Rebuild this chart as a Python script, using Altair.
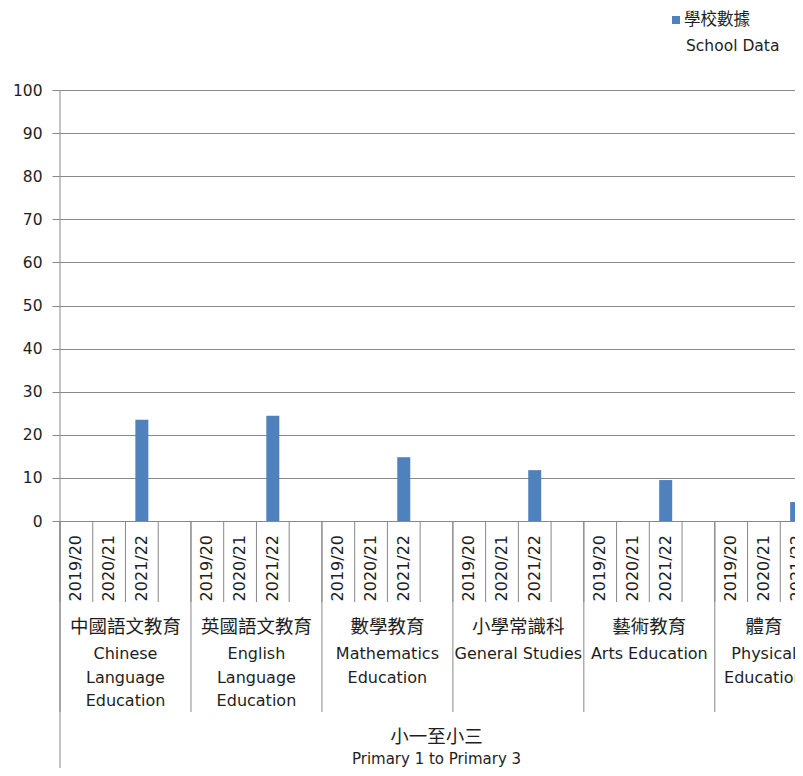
import altair as alt
import pandas as pd

# ---------------- data ----------------
subjects_zh = ["中國語文教育", "英國語文教育", "數學教育", "小學常識科", "藝術教育", "體育"]
subjects_en = ["Chinese\nLanguage\nEducation", "English\nLanguage\nEducation",
               "Mathematics\nEducation", "General Studies", "Arts Education",
               "Physical\nEducation"]
years = ["2019/20", "2020/21", "2021/22"]
values_2019_20 = [None, None, None, None, None, None]
values_2020_21 = [None, None, None, None, None, None]
values_2021_22 = [23.5, 24.4, 14.8, 11.8, 9.5, 4.4]
y_ticks = [0, 10, 20, 30, 40, 50, 60, 70, 80, 90, 100]
series_zh = "學校數據"
series_en = "School Data"
stage_zh = "小一至小三"
stage_en = "Primary 1 to Primary 3"

# ---------------- style ----------------
BLUE = "#4F81BD"
GRAY = "#888888"
TXT = "#1e1e1e"
LATIN = "DejaVu Sans"
CJK = "Noto Sans CJK TC"
W, H = 735, 431
SLOT_PX = 32.74

# ---------------- tables ----------------
series_vals = [values_2019_20, values_2020_21, values_2021_22]
slots_per_group = len(years) + 1
n_slots = len(subjects_zh) * slots_per_group - 1
x_max = W / SLOT_PX  # the picture is cropped at the right edge

rows = []
for i, s in enumerate(subjects_zh):
    for j, yr in enumerate(years):
        rows.append({"subject": s, "year": yr, "si": i, "yi": j,
                     "value": series_vals[j][i]})
df = pd.DataFrame(rows)
df["slot"] = df["si"] * slots_per_group + df["yi"] + 0.5

groups = []
for i, (zh, en) in enumerate(zip(subjects_zh, subjects_en)):
    start = i * slots_per_group
    end = min(start + slots_per_group, n_slots)
    groups.append({"zh": zh, "en": en, "center": (start + end) / 2.0, "start": start})
gdf = pd.DataFrame(groups)

bounds = pd.DataFrame({"b": list(range(0, n_slots + 1))})
gbounds = pd.DataFrame({"b": [g["start"] for g in groups] + [n_slots]})
stage = pd.DataFrame({"zh": [stage_zh], "en": [stage_en], "center": [n_slots / 2.0]})
legend = pd.DataFrame({"zh": [series_zh], "en": [series_en]})

xs = alt.Scale(domain=[0, x_max], nice=False, zero=False, padding=0)
ys = alt.Scale(domain=[0, 100], nice=False)

bars = alt.Chart(df).transform_filter("isValid(datum.value)").mark_bar(
    size=13, color=BLUE, clip=True
).encode(
    x=alt.X("slot:Q", scale=xs, axis=None),
    y=alt.Y("value:Q", scale=ys, axis=alt.Axis(
        values=y_ticks, title=None, grid=True, gridColor=GRAY, gridWidth=1,
        domain=False, tickColor=GRAY, tickSize=8, labelPadding=10,
        labelFont=LATIN, labelFontSize=15.5, labelColor=TXT)),
)

year_labels = alt.Chart(df).mark_text(
    angle=270, align="right", baseline="middle", font=LATIN, fontSize=16, color=TXT
).encode(x=alt.X("slot:Q", scale=xs), y=alt.value(445), text="year:N")

slot_lines = alt.Chart(bounds).mark_rule(color=GRAY, strokeWidth=1).encode(
    x=alt.X("b:Q", scale=xs), y=alt.value(H), y2=alt.value(H + 81))

group_lines = alt.Chart(gbounds).mark_rule(color=GRAY, strokeWidth=1).encode(
    x=alt.X("b:Q", scale=xs), y=alt.value(H), y2=alt.value(H + 191))

axis_line = alt.Chart(pd.DataFrame({"b": [0]})).mark_rule(color=GRAY, strokeWidth=1).encode(
    x=alt.X("b:Q", scale=xs), y=alt.value(0), y2=alt.value(H + 260))

subj_zh = alt.Chart(gdf).mark_text(
    font=CJK, fontSize=18.5, baseline="middle", align="center", color=TXT
).encode(x=alt.X("center:Q", scale=xs), y=alt.value(537), text="zh:N")

subj_en = alt.Chart(gdf).mark_text(
    font=LATIN, fontSize=16, baseline="top", align="center", color=TXT,
    lineBreak="\n", lineHeight=23.5
).encode(x=alt.X("center:Q", scale=xs), y=alt.value(556), text="en:N")

stage_zh_t = alt.Chart(stage).mark_text(
    font=CJK, fontSize=18.5, baseline="middle", align="center", color=TXT
).encode(x=alt.X("center:Q", scale=xs), y=alt.value(647), text="zh:N")

stage_en_t = alt.Chart(stage).mark_text(
    font=LATIN, fontSize=15, baseline="middle", align="center", color=TXT
).encode(x=alt.X("center:Q", scale=xs), y=alt.value(669), text="en:N")

leg_sym = alt.Chart(legend).mark_square(size=64, color=BLUE, opacity=1).encode(
    x=alt.value(616), y=alt.value(-70))
leg_zh = alt.Chart(legend).mark_text(
    font=CJK, fontSize=16.5, align="left", baseline="middle", color=TXT
).encode(x=alt.value(624), y=alt.value(-70), text="zh:N")
leg_en = alt.Chart(legend).mark_text(
    font=LATIN, fontSize=15.5, align="left", baseline="middle", color=TXT
).encode(x=alt.value(626), y=alt.value(-44), text="en:N")

chart = alt.layer(
    bars, slot_lines, group_lines, axis_line, year_labels, subj_zh, subj_en,
    stage_zh_t, stage_en_t, leg_sym, leg_zh, leg_en
).properties(
    width=W, height=H,
    autosize=alt.AutoSizeParams(type="none"),
    padding={"left": 52, "top": 82, "right": 0, "bottom": 247},
    background="white",
).configure_view(stroke=None)

chart.save("out.html", embed_options={"renderer": "svg", "actions": False})
